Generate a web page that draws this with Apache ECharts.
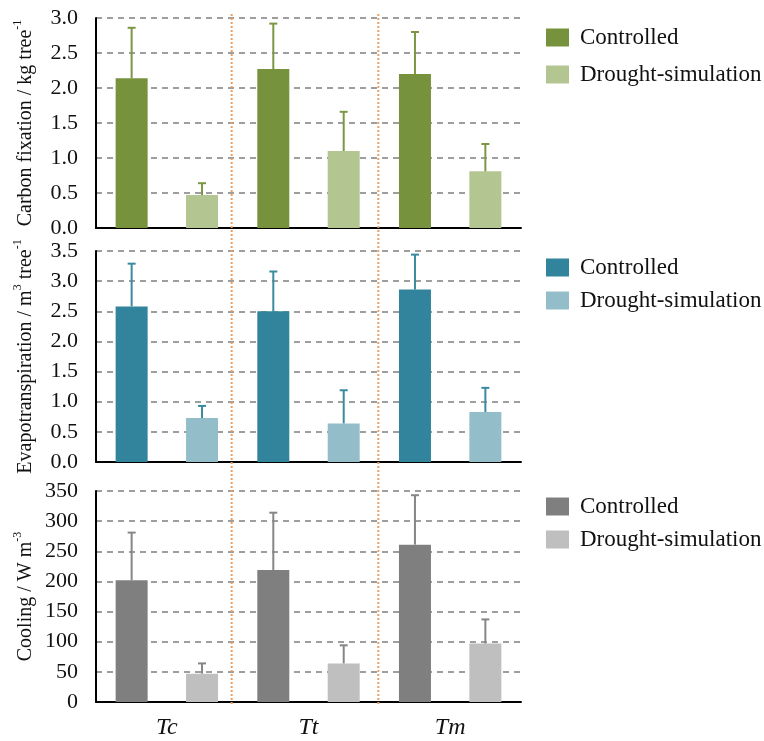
<!DOCTYPE html>
<html>
<head>
<meta charset="utf-8">
<script src="https://cdn.jsdelivr.net/npm/echarts@6/dist/echarts.min.js"></script>
<style>
  html, body { margin: 0; padding: 0; background: #ffffff; }
  #chart { width: 764px; height: 741px; }
</style>
</head>
<body>
<div id="chart"></div>
<script>
// Tree species
const categories = ['Tc', 'Tt', 'Tm'];

// Carbon fixation (kg tree-1): means and upper error
const carbonControlled = [2.14, 2.27, 2.20];
const carbonControlledErr = [0.72, 0.65, 0.60];
const carbonDrought = [0.47, 1.10, 0.81];
const carbonDroughtErr = [0.17, 0.56, 0.39];

// Evapotranspiration (m3 tree-1)
const evapControlled = [2.58, 2.50, 2.86];
const evapControlledErr = [0.71, 0.66, 0.58];
const evapDrought = [0.73, 0.64, 0.83];
const evapDroughtErr = [0.20, 0.55, 0.40];

// Cooling (W m-3)
const coolControlled = [202, 219, 261];
const coolControlledErr = [79, 95, 82];
const coolDrought = [47, 64, 97];
const coolDroughtErr = [17, 30, 40];

// Axis ranges
const carbonTicks = { min: 0, max: 3.0, interval: 0.5 };
const evapTicks = { min: 0, max: 3.5, interval: 0.5 };
const coolTicks = { min: 0, max: 350, interval: 50 };

const seriesNames = ['Controlled', 'Drought-simulation'];

const FONT = 'Liberation Serif, Times New Roman, serif';
const BAR_W = 32;
const BAR_GAP = 1.2;
const CAP = 4;

const panels = [
  {
    key: 'carbon',
    name: '{t|Carbon fixation / kg tree}{s|-1}',
    ticks: carbonTicks, decimals: 1,
    values: [carbonControlled, carbonDrought],
    errors: [carbonControlledErr, carbonDroughtErr],
    colors: ['#76923c', '#b3c692'],
    errColor: '#7b9744',
    grid: { left: 96, top: 18, width: 425, height: 210 },
    legendTop: 21, legendGap: 14
  },
  {
    key: 'evap',
    name: '{t|Evapotranspiration / m}{s|3}{t| tree}{s|-1}',
    ticks: evapTicks, decimals: 1,
    values: [evapControlled, evapDrought],
    errors: [evapControlledErr, evapDroughtErr],
    colors: ['#31849b', '#93bec9'],
    errColor: '#3a8aa0',
    grid: { left: 96, top: 251, width: 425, height: 211 },
    legendTop: 251, legendGap: 10
  },
  {
    key: 'cool',
    name: '{t|Cooling / W m}{s|-3}',
    ticks: coolTicks, decimals: 0,
    values: [coolControlled, coolDrought],
    errors: [coolControlledErr, coolDroughtErr],
    colors: ['#7f7f7f', '#bfbfbf'],
    errColor: '#868686',
    grid: { left: 96, top: 491, width: 425, height: 211 },
    legendTop: 490, legendGap: 10
  }
];

// Nudges for the dotted separators relative to the category boundaries
const separatorShift = [-6, -1];

// Error whisker above each bar: the offset mirrors the bar layout (barWidth + barGap)
function errorRenderer(slot, color) {
  return function (params, api) {
    const idx = api.value(0);
    const val = api.value(1);
    const err = api.value(2);
    const base = api.coord([idx, val]);
    const top = api.coord([idx, val + err]);
    const half = (BAR_W + BAR_W * BAR_GAP) / 2;
    const x = base[0] + (slot === 0 ? -half : half);
    return {
      type: 'group',
      children: [
        { type: 'line', shape: { x1: x, y1: base[1], x2: x, y2: top[1] },
          style: { stroke: color, lineWidth: 2 } },
        { type: 'line', shape: { x1: x - CAP, y1: top[1], x2: x + CAP, y2: top[1] },
          style: { stroke: color, lineWidth: 2 } }
      ]
    };
  };
}

const grids = [], xAxes = [], yAxes = [], series = [], legends = [];

panels.forEach((p, i) => {
  grids.push(Object.assign({ outerBoundsMode: 'none', containLabel: false }, p.grid));
  const last = i === panels.length - 1;
  xAxes.push({
    type: 'category', gridIndex: i, data: categories,
    axisLine: { show: true, lineStyle: { color: '#000', width: 2 } },
    axisTick: { show: false },
    axisLabel: last
      ? { show: true, fontFamily: FONT, fontStyle: 'italic', fontSize: 24, color: '#111', margin: 14 }
      : { show: false },
    splitLine: { show: false }
  });
  yAxes.push({
    type: 'value', gridIndex: i,
    min: p.ticks.min, max: p.ticks.max, interval: p.ticks.interval,
    name: p.name, nameLocation: 'middle', nameRotate: 90, nameGap: 60,
    nameMoveOverlap: false,
    nameTextStyle: {
      rich: {
        t: { fontFamily: FONT, fontSize: 20, color: '#111', lineHeight: 24, verticalAlign: 'bottom' },
        s: { fontFamily: FONT, fontSize: 12, color: '#111', lineHeight: 24, verticalAlign: 'top' }
      }
    },
    axisLine: { show: true, lineStyle: { color: '#000', width: 2 } },
    axisTick: { show: false },
    axisLabel: {
      fontFamily: FONT, fontSize: 22, color: '#111', margin: 18,
      formatter: v => v.toFixed(p.decimals)
    },
    splitLine: { show: true, lineStyle: { color: '#7f7f7f', width: 1.5, type: [6, 5] } }
  });

  seriesNames.forEach((sn, k) => {
    const id = sn + ' (' + p.key + ')';
    series.push({
      type: 'bar', name: id, xAxisIndex: i, yAxisIndex: i,
      data: p.values[k], barWidth: BAR_W, barGap: (BAR_GAP * 100) + '%',
      itemStyle: { color: p.colors[k] }
    });
  });
  seriesNames.forEach((sn, k) => {
    series.push({
      type: 'custom', name: 'err-' + k + '-' + p.key, xAxisIndex: i, yAxisIndex: i,
      renderItem: errorRenderer(k, p.errColor), z: 3,
      data: p.values[k].map((v, j) => [j, v, p.errors[k][j]])
    });
  });

  legends.push({
    left: 541, top: p.legendTop, orient: 'vertical',
    itemWidth: 23, itemHeight: 18, itemGap: p.legendGap,
    icon: 'rect', selectedMode: false,
    data: seriesNames.map(sn => sn + ' (' + p.key + ')'),
    formatter: name => name.split(' (')[0],
    textStyle: { fontFamily: FONT, fontSize: 23, color: '#111', lineHeight: 22, padding: [0, 0, 0, 6] }
  });
});

const chart = echarts.init(document.getElementById('chart'), null, { renderer: 'canvas' });
chart.setOption({
  backgroundColor: '#ffffff',
  animation: false,
  textStyle: { fontFamily: FONT },
  grid: grids, xAxis: xAxes, yAxis: yAxes, legend: legends, series: series
});

// Dotted separators between species, spanning all three panels
function drawSeparators() {
  const c0 = chart.convertToPixel({ xAxisIndex: 0 }, 0);
  const c1 = chart.convertToPixel({ xAxisIndex: 0 }, 1);
  const band = c1 - c0;
  const yTop = chart.convertToPixel({ yAxisIndex: 0 }, carbonTicks.max) - 4;
  const yBottom = chart.convertToPixel({ yAxisIndex: 2 }, 0) + 2;
  const lines = [];
  for (let j = 0; j < categories.length - 1; j++) {
    const x = c0 + band * (j + 0.5) + separatorShift[j];
    lines.push({
      type: 'line', z: 10,
      shape: { x1: x, y1: yTop, x2: x, y2: yBottom },
      style: { stroke: '#e8a060', lineWidth: 2, lineDash: [2, 2] }
    });
  }
  chart.setOption({ graphic: lines });
}
drawSeparators();
</script>
</body>
</html>
